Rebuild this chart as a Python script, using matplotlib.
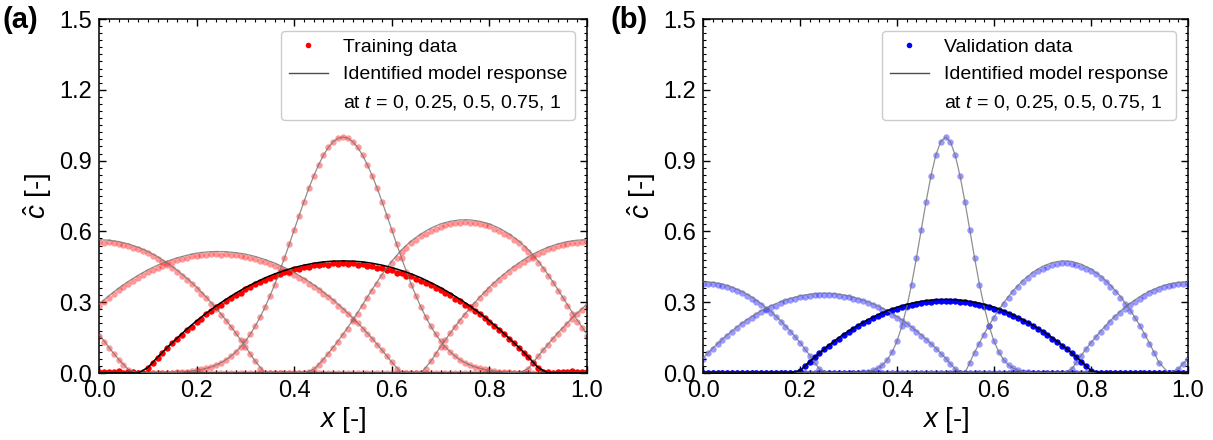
import matplotlib
matplotlib.use("Agg")
import matplotlib.pyplot as plt
from matplotlib.lines import Line2D
from matplotlib.ticker import MultipleLocator
import numpy as np

plt.rcParams["font.family"] = ["Liberation Sans", "DejaVu Sans"]
plt.rcParams["mathtext.fontset"] = "custom"
plt.rcParams["mathtext.rm"] = "Liberation Sans"
plt.rcParams["mathtext.it"] = "Liberation Sans:italic"
plt.rcParams["mathtext.bf"] = "Liberation Sans:bold"

times = [0, 0.25, 0.5, 0.75, 1]

# sample positions: measured points every 0.01, model curves every 0.02
x_data = np.linspace(0, 1, 101)
x_model = np.linspace(0, 1, 51)

# ---------------- (a) training data ----------------
train_t0 = [0.0] * 15 + [
    .002, .003, .004, .006, .008, .011, .015, .020, .026, .034, .044, .056,
    .071, .089, .110, .135, .164, .198, .236, .278, .325, .375, .430, .487,
    .546, .607, .667, .726, .783, .835, .882, .923, .956, .980, .995, 1.000,
    .995, .980, .956, .923, .882, .835, .783, .726, .667, .607, .546, .487,
    .430, .375, .325, .278, .236, .198, .164, .135, .110, .089, .071, .056,
    .044, .034, .026, .020, .015, .011, .008, .006, .004, .003, .002,
] + [0.0] * 15

train_t025 = [.158, .131, .106, .080, .057, .034, .014, .004] + [0.0] * 35 + [
    .004, .015, .033, .056, .081, .105, .133, .159, .188, .219,
    .250, .282, .316, .347, .379, .410, .437, .466, .489, .512,
    .530, .551, .564, .579, .590, .603, .611, .620, .627, .630,
    .636, .637, .639, .636, .637, .631, .626, .621, .612, .603,
    .591, .580, .563, .550, .531, .513, .488, .465, .439, .409,
    .380, .347, .317, .282, .251, .218, .190, .158,
]

train_t05 = [
    .553, .551, .553, .549, .546, .543, .538, .530, .524, .515,
    .507, .494, .485, .470, .459, .443, .430, .411, .396, .376,
    .358, .336, .317, .293, .271, .246, .222, .195, .168, .140,
    .110, .080, .049, .017,
] + [0.0] * 33 + [
    .017, .049, .080, .111, .139, .168, .196, .221, .247, .270,
    .294, .316, .337, .357, .377, .395, .412, .428, .444, .458,
    .472, .484, .495, .506, .514, .524, .531, .537, .543, .547,
    .550, .552, .554, .553,
]

train_t075 = [
    .284, .300, .318, .334, .350, .363, .378, .391, .404, .414,
    .427, .436, .447, .455, .464, .470, .478, .484, .488, .494,
    .497, .499, .502, .503, .504, .502, .504, .501, .500, .496,
    .493, .487, .483, .476, .470, .462, .455, .445, .437, .425,
    .416, .403, .392, .378, .365, .350, .336, .320, .303, .285,
    .268, .249, .230, .210, .188, .166, .144, .120, .096, .071,
    .045, .019,
] + [0.0] * 26 + [
    .019, .045, .071, .096, .120, .143, .166, .188, .209, .229, .249, .268, .285,
]

train_t1 = [
    .004, .006, .003, .005, .007, .002, .004, .003, .002, .001,
    .022, .044, .064, .086, .106, .126, .144, .163, .182, .197,
    .216, .230, .249, .262, .279, .290, .307, .316, .332, .341,
    .355, .364, .377, .384, .396, .403, .412, .419, .427, .430,
    .439, .441, .449, .450, .457, .456, .462, .459, .464, .462,
    .465, .460, .464, .458, .460, .452, .455, .446, .447, .437,
    .437, .425, .424, .411, .409, .398, .391, .381, .373, .361,
    .352, .338, .329, .314, .304, .289, .278, .262, .250, .233,
    .218, .200, .183, .164, .146, .126, .107, .086, .066, .044,
    .022, .003, .005, .002, .006, .004, .003, .007, .004, .005,
    .003,
]

# identified model response (a); t = 0 is the initial condition itself
model_a_t025 = [.164, .109, .058, .015] + [0.0] * 18 + [
    .015, .058, .109, .164, .224, .289, .355, .418, .474, .522,
    .560, .590, .614, .632, .643, .649, .649, .643, .632, .614,
    .590, .560, .522, .474, .418, .355, .289, .224, .164,
]
model_a_t05 = [
    .565, .563, .557, .547, .533, .515, .493, .466, .436, .402,
    .364, .321, .275, .225, .170, .112, .050,
] + [0.0] * 17 + [
    .050, .112, .170, .225, .275, .321, .364, .402, .436, .466,
    .493, .515, .533, .547, .557, .563, .565,
]
model_a_t075 = [
    .292, .327, .359, .388, .414, .437, .457, .474, .488, .499,
    .508, .513, .515, .514, .510, .504, .494, .481, .466, .447,
    .426, .401, .374, .343, .310, .273, .234, .191, .146, .097,
    .046,
] + [0.0] * 13 + [.019, .072, .122, .169, .213, .254, .292]
model_a_t1 = [0.0] * 5 + [
    .023, .067, .109, .148, .186, .221, .254, .284, .312, .338,
    .362, .383, .403, .420, .434, .447, .457, .465, .471, .474,
    .475, .474, .471, .465, .457, .447, .434, .420, .403, .383,
    .362, .338, .312, .284, .254, .221, .186, .148, .109, .067,
    .023,
] + [0.0] * 5

# ---------------- (b) validation data ----------------
val_t0 = [0.0] * 32 + [
    .002, .003, .006, .011, .020, .034, .056, .089, .135, .198,
    .278, .375, .487, .607, .726, .835, .923, .980, 1.000,
    .980, .923, .835, .726, .607, .487, .375, .278, .198, .135,
    .089, .056, .034, .020, .011, .006, .003, .002,
] + [0.0] * 32

val_t025 = [0.0] * 55 + [
    .044, .086, .125, .163, .199, .232, .263, .292, .318, .342,
    .364, .384, .402, .418, .431, .442, .451, .458, .462, .465,
    .465, .462, .458, .451, .442, .431, .418, .402, .384, .364,
    .342, .318, .292, .263, .232, .199, .163, .125, .086, .044,
] + [0.0] * 6

val_t05 = [
    .378, .378, .376, .373, .368, .363, .356, .348, .338, .327,
    .315, .302, .288, .272, .255, .237, .217, .196, .174, .151,
    .126, .100, .073, .045, .015,
] + [0.0] * 51 + [
    .015, .045, .073, .100, .126, .151, .174, .196, .217, .237,
    .255, .272, .288, .302, .315, .327, .338, .348, .356, .363,
    .368, .373, .376, .378, .378,
]

val_t075 = [
    .061, .083, .103, .122, .141, .158, .175, .191, .206, .220,
    .234, .246, .258, .268, .278, .286, .296, .303, .309, .315,
    .320, .324, .327, .329, .330, .331, .330, .329, .327, .324,
    .320, .315, .309, .303, .296, .287, .278, .268, .258, .246,
    .234, .220, .206, .191, .175, .158, .141, .122, .103, .082,
    .061, .039, .017,
] + [0.0] * 45 + [.017, .039, .061]

val_t1 = [0.0] * 20 + [
    .010, .029, .048, .066, .083, .100, .116, .132, .146, .160,
    .174, .187, .199, .210, .222, .231, .241, .250, .258, .265,
    .272, .279, .284, .289, .293, .297, .300, .302, .304, .305,
    .305, .305, .304, .302, .300, .297, .293, .289, .284, .279,
    .272, .265, .258, .250, .241, .231, .222, .210, .199, .187,
    .174, .160, .146, .132, .116, .100, .083, .066, .048, .029,
    .010,
] + [0.0] * 20

model_b_t025 = [0.0] * 28 + [
    .088, .167, .237, .298, .350, .393, .427, .452, .468, .475,
    .473, .461, .441, .411, .373, .326, .269, .204, .129, .045,
] + [0.0] * 3
model_b_t05 = [
    .387, .384, .377, .364, .346, .323, .294, .261, .222, .178,
    .129, .075, .016,
] + [0.0] * 25 + [
    .016, .075, .129, .178, .222, .261, .294, .323, .346, .364,
    .377, .384, .387,
]
model_b_t075 = [
    .063, .105, .144, .179, .211, .239, .264, .285, .302, .316,
    .327, .334, .338, .338, .334, .327, .316, .302, .285, .264,
    .239, .211, .179, .144, .105, .063, .017,
] + [0.0] * 22 + [.017, .063]
model_b_t1 = [0.0] * 10 + [
    .010, .049, .085, .119, .150, .178, .203, .226, .246, .264,
    .279, .291, .300, .307, .311, .312, .311, .307, .300, .291,
    .279, .264, .246, .226, .203, .178, .150, .119, .085, .049,
    .010,
] + [0.0] * 10


def draw_panel(ax, data_sets, model_sets, color, data_label):
    n = len(data_sets)
    for i in range(n):
        last = i == n - 1
        ax.plot(x_data, data_sets[i], "o", color=color, ms=4.6, mew=0,
                alpha=1.0 if last else 0.4, zorder=2)
        xm = x_data if len(model_sets[i]) == len(x_data) else x_model
        ax.plot(xm, model_sets[i], "-", color="k" if last else "0.45",
                lw=1.1 if last else 0.9, alpha=1.0 if last else 0.8, zorder=3)

    ax.set_xlim(0, 1)
    ax.set_ylim(0, 1.5)
    ax.xaxis.set_major_locator(MultipleLocator(0.2))
    ax.xaxis.set_minor_locator(MultipleLocator(0.02))
    ax.yaxis.set_major_locator(MultipleLocator(0.3))
    ax.yaxis.set_minor_locator(MultipleLocator(0.03))
    ax.tick_params(which="both", direction="in", top=True, right=True)
    ax.tick_params(which="major", length=5, width=1, labelsize=17, pad=5)
    ax.tick_params(which="minor", length=2.5, width=0.8)
    for s in ax.spines.values():
        s.set_linewidth(1.1)
    ax.set_xlabel("$x$ [-]", fontsize=20, labelpad=2)
    ax.set_ylabel("$\\hat{c}$ [-]", fontsize=20, labelpad=4)

    handles = [
        Line2D([], [], marker="o", ls="none", color=color, ms=4, mew=0),
        Line2D([], [], color="0.3", lw=1),
        Line2D([], [], ls="none"),
    ]
    labels = [data_label, "Identified model response",
              "at $t$ = " + ", ".join(str(t) for t in times)]
    ax.legend(handles, labels, loc="upper right", fontsize=14,
              edgecolor="0.8", framealpha=1, handlelength=2,
              labelspacing=0.5, borderaxespad=0.6)


fig = plt.figure(figsize=(12.13, 4.4), dpi=100)
ax_a = fig.add_axes([99 / 1213, 67 / 440, 488 / 1213, 354 / 440])
ax_b = fig.add_axes([703 / 1213, 67 / 440, 485 / 1213, 354 / 440])

draw_panel(ax_a,
           [train_t0, train_t025, train_t05, train_t075, train_t1],
           [train_t0, model_a_t025, model_a_t05, model_a_t075, model_a_t1],
           "red", "Training data")
draw_panel(ax_b,
           [val_t0, val_t025, val_t05, val_t075, val_t1],
           [val_t0, model_b_t025, model_b_t05, model_b_t075, model_b_t1],
           "blue", "Validation data")

fig.text(0.002, 0.955, "(a)", fontsize=21, fontweight="bold", va="center")
fig.text(0.503, 0.955, "(b)", fontsize=21, fontweight="bold", va="center")

fig.savefig("out.png", dpi=100)
